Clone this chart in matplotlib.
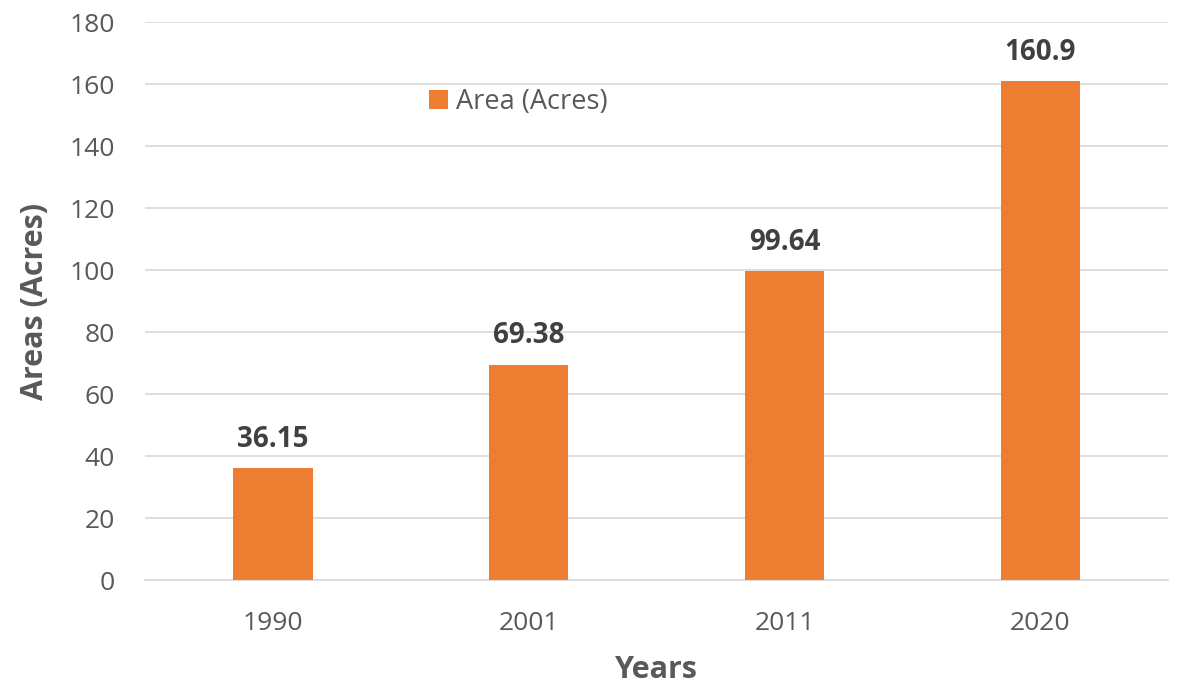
import matplotlib.pyplot as plt

years = ["1990", "2001", "2011", "2020"]
areas = [36.15, 69.38, 99.64, 160.9]
area_labels = ["36.15", "69.38", "99.64", "160.9"]

plt.rcParams['font.family'] = ['Open Sans', 'DejaVu Sans']

fig = plt.figure(figsize=(11.8, 6.9), dpi=100)
ax = fig.add_axes([0.123, 0.159, 0.867, 0.809])

x = range(len(years))
bars = ax.bar(x, areas, width=0.31, color='#ED7D31', label='Area (Acres)', zorder=3)

for xi, v, lbl in zip(x, areas, area_labels):
    ax.annotate(lbl, xy=(xi, v), xytext=(0, 21), textcoords='offset points',
                ha='center', va='center', fontsize=20, fontweight='bold', color='#404040')

ax.set_xlim(-0.5, len(years) - 0.5)
ax.set_ylim(0, 180)
ax.set_yticks(range(0, 181, 20))
ax.set_xticks(list(x))
ax.set_xticklabels(years)
ax.tick_params(axis='both', length=0, labelsize=19, labelcolor='#595959')
ax.tick_params(axis='x', pad=22)
ax.tick_params(axis='y', pad=22)

ax.grid(axis='y', color='#d9d9d9', linewidth=1.2, zorder=0)
for s in ['top', 'right', 'left']:
    ax.spines[s].set_visible(False)
ax.spines['bottom'].set_color('#d9d9d9')
ax.spines['bottom'].set_linewidth(1.2)

ax.set_xlabel('Years', fontsize=22, fontweight='bold', color='#595959', labelpad=14)
ax.set_ylabel('Areas (Acres)', fontsize=22, fontweight='bold', color='#595959', labelpad=14)

ax.legend(loc='center left', bbox_to_anchor=(0.264, 0.857), frameon=False, fontsize=19.5,
          handlelength=0.7, handleheight=0.7, handletextpad=0.3, borderpad=0,
          labelcolor='#595959')

plt.savefig('out.png')
